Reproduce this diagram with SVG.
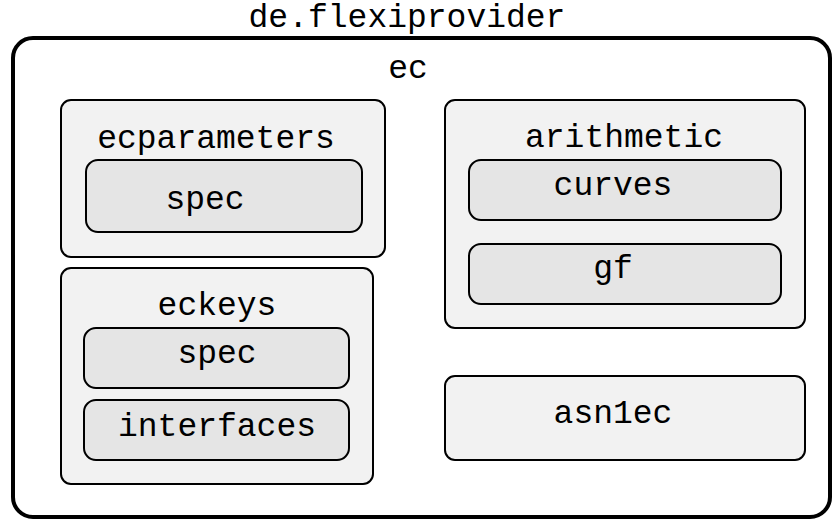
<svg xmlns="http://www.w3.org/2000/svg" width="833" height="521" viewBox="0 0 833 521">
  <style>
    text { font-family: "Liberation Mono", "DejaVu Sans Mono", monospace; font-size: 33px; fill: #000; text-anchor: middle; }
    .outer { fill: #ffffff; stroke: #000; stroke-width: 4; }
    .pkg { fill: #f2f2f2; stroke: #000; stroke-width: 2; }
    .sub { fill: #e5e5e5; stroke: #000; stroke-width: 2; }
  </style>
  <rect width="833" height="521" fill="#ffffff"/>

  <!-- top-level package -->
  <g id="de.flexiprovider">
    <text x="407" y="27">de.flexiprovider</text>
    <rect class="outer" x="13" y="38" width="817" height="479" rx="20" ry="20"/>
  </g>

  <g id="ec">
    <text x="408" y="78">ec</text>
  </g>

  <!-- ec.ecparameters -->
  <g id="ecparameters">
    <rect class="pkg" x="61" y="100" width="324" height="157" rx="10" ry="10"/>
    <text x="216" y="148">ecparameters</text>
  </g>
  <g id="ecparameters.spec">
    <rect class="sub" x="86" y="160" width="276" height="72" rx="12" ry="12"/>
    <text x="205" y="209">spec</text>
  </g>

  <!-- ec.eckeys -->
  <g id="eckeys">
    <rect class="pkg" x="61" y="268" width="312" height="216" rx="10" ry="10"/>
    <text x="217" y="315">eckeys</text>
  </g>
  <g id="eckeys.spec">
    <rect class="sub" x="84" y="328" width="265" height="60" rx="12" ry="12"/>
    <text x="217" y="363">spec</text>
  </g>
  <g id="eckeys.interfaces">
    <rect class="sub" x="84" y="400" width="265" height="60" rx="12" ry="12"/>
    <text x="217" y="436">interfaces</text>
  </g>

  <!-- ec.arithmetic -->
  <g id="arithmetic">
    <rect class="pkg" x="445" y="100" width="360" height="228" rx="10" ry="10"/>
    <text x="624" y="147">arithmetic</text>
  </g>
  <g id="arithmetic.curves">
    <rect class="sub" x="469" y="160" width="312" height="60" rx="12" ry="12"/>
    <text x="613" y="195">curves</text>
  </g>
  <g id="arithmetic.gf">
    <rect class="sub" x="469" y="244" width="312" height="60" rx="12" ry="12"/>
    <text x="613" y="278">gf</text>
  </g>

  <!-- ec.asn1ec -->
  <g id="asn1ec">
    <rect class="pkg" x="445" y="376" width="360" height="84" rx="10" ry="10"/>
    <text x="613" y="423">asn1ec</text>
  </g>

  <g id="connectors"/>
</svg>
